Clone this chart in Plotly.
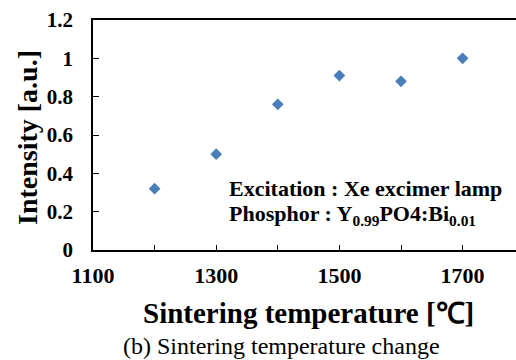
import plotly.graph_objects as go

temps = [1200, 1300, 1400, 1500, 1600, 1700]
intensity = [0.32, 0.50, 0.76, 0.91, 0.88, 1.00]
y_ticks = [0, 0.2, 0.4, 0.6, 0.8, 1.0, 1.2]
y_labels = ["0", "0.2", "0.4", "0.6", "0.8", "1", "1.2"]
x_ticks = [1100, 1200, 1300, 1400, 1500, 1600, 1700]
x_labels = ["1100", "", "1300", "", "1500", "", "1700"]

W, H = 516, 360
L, R, T, B = 93, 0, 20, 110
pw, ph = W - L - R, H - T - B

def px(x):
    return (x - L) / pw

def py(y):
    return 1 - (y - T) / ph

font = "Liberation Serif, Times New Roman, serif"

fig = go.Figure()
fig.add_trace(go.Scatter(
    x=temps, y=intensity, mode="markers",
    marker=dict(symbol="diamond", size=9, color="#4A7EBB"),
    showlegend=False, hoverinfo="skip",
))

fig.update_layout(
    width=W, height=H,
    margin=dict(l=L, r=R, t=T, b=B, autoexpand=False),
    paper_bgcolor="white", plot_bgcolor="white",
    font=dict(family=font, color="black"),
    xaxis=dict(
        range=[1100, 1100 + (W - L) / 61.6 * 100], tickvals=x_ticks,
        ticktext=[f"<b>{t}</b>" if t else "" for t in x_labels],
        ticks="inside", ticklen=5, tickwidth=1, tickcolor="black",
        showline=True, linecolor="black", linewidth=1.5, mirror=True,
        showgrid=False, zeroline=False,
        tickfont=dict(size=22, family=font),
        ticklabelstandoff=5,
    ),
    yaxis=dict(
        range=[0, 1.2], tickvals=y_ticks,
        ticktext=[f"<b>{t}</b>" for t in y_labels],
        ticks="inside", ticklen=6, tickwidth=1, tickcolor="black",
        showline=True, linecolor="black", linewidth=1.5, mirror=True,
        showgrid=False, zeroline=False,
        tickfont=dict(size=21, family=font),
        ticklabelstandoff=14,
    ),
)

ann = [
    dict(text="<b>Intensity [a.u.]</b>", x=px(27), y=py(138), textangle=-90, size=28),
    dict(text="<b>Sintering temperature [℃]</b>", x=px(308), y=py(313), size=29),
    dict(text="(b) Sintering temperature change", x=px(281), y=py(346), size=24),
    dict(text="<b>Excitation : Xe excimer lamp</b>", x=px(227), y=py(188),
         xanchor="left", size=22),
    dict(text="<b>Phosphor : Y<sub>0.99</sub>PO4:Bi<sub>0.01</sub></b>", x=px(227), y=py(215),
         xanchor="left", size=22),
]
for a in ann:
    a.setdefault("xanchor", "center")
    size = a.pop("size")
    fig.add_annotation(xref="paper", yref="paper", showarrow=False, yanchor="middle",
                       font=dict(family=font, color="black", size=size), **a)

fig.write_html("out.html", config={"displayModeBar": False},
               post_script="document.body.style.margin='0';document.body.style.overflow='hidden';")
